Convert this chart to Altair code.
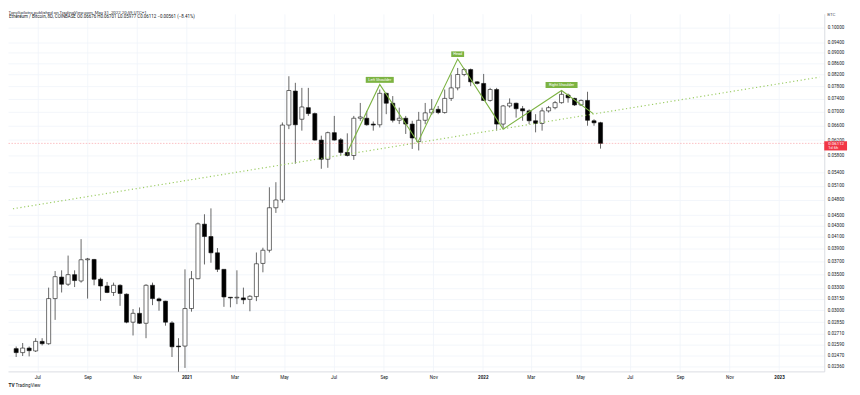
import altair as alt
import pandas as pd

# ---------------- data ----------------
DATES = pd.date_range("2020-06-05", periods=91, freq="8D").strftime("%Y-%m-%d").tolist()

OPEN = [
    0.02546, 0.02503, 0.02552, 0.02521, 0.02626, 0.02600, 0.03152, 0.03455, 0.03351, 0.03491,
    0.03398, 0.03720, 0.03725, 0.03423, 0.03326, 0.03235, 0.03336, 0.03212, 0.02850, 0.02960,
    0.02837, 0.03336, 0.03148, 0.03118, 0.02841, 0.02574, 0.02574, 0.03021, 0.03431, 0.04330,
    0.04108, 0.03832, 0.03571, 0.03170, 0.03161, 0.03161, 0.03141, 0.03179, 0.03662, 0.03874,
    0.04644, 0.04800, 0.06609, 0.07641, 0.06775, 0.07118, 0.06941, 0.06199, 0.05712, 0.06398,
    0.06207, 0.05880, 0.05804, 0.06804, 0.06804, 0.06637, 0.06617, 0.07567, 0.07254, 0.06745,
    0.06804, 0.06637, 0.06160, 0.06745, 0.06962, 0.07068, 0.06971, 0.07405, 0.07745, 0.08199,
    0.08375, 0.07947, 0.07893, 0.07341, 0.07691, 0.06637, 0.07170, 0.07254, 0.07086, 0.07021,
    0.06731, 0.06654, 0.07021, 0.07118, 0.07272, 0.07512, 0.07405, 0.07201, 0.07341, 0.06731,
    0.06676,
]
HIGH = [
    0.02569, 0.02608, 0.02569, 0.02662, 0.02662, 0.03303, 0.03545, 0.03556, 0.03787, 0.03556,
    0.04062, 0.03749, 0.03733, 0.03446, 0.03384, 0.03374, 0.03351, 0.03222, 0.03015, 0.03035,
    0.03351, 0.03374, 0.03166, 0.03122, 0.02862, 0.02662, 0.03571, 0.03545, 0.04361, 0.04517,
    0.04632, 0.03911, 0.03571, 0.03170, 0.03556, 0.03303, 0.03198, 0.03837, 0.03916, 0.05068,
    0.05179, 0.06683, 0.08139, 0.07914, 0.07745, 0.07745, 0.06971, 0.06316, 0.06426, 0.06872,
    0.06254, 0.06379, 0.06872, 0.07263, 0.07021, 0.06711, 0.07691, 0.07586, 0.07479, 0.07118,
    0.06872, 0.06731, 0.06991, 0.07263, 0.07383, 0.07170, 0.07691, 0.08199, 0.08432, 0.08432,
    0.08411, 0.07971, 0.08220, 0.07745, 0.07745, 0.07200, 0.07405, 0.07272, 0.07170, 0.07068,
    0.06923, 0.07118, 0.07170, 0.07325, 0.07641, 0.07559, 0.07425, 0.07372, 0.07618, 0.06775,
    0.06701,
]
LOW = [
    0.02457, 0.02467, 0.02463, 0.02510, 0.02581, 0.02589, 0.02878, 0.03235, 0.03326, 0.03311,
    0.03374, 0.03152, 0.03336, 0.03122, 0.03226, 0.03188, 0.03056, 0.02837, 0.02693, 0.02829,
    0.02662, 0.03065, 0.02993, 0.02808, 0.02457, 0.02307, 0.02345, 0.02981, 0.03423, 0.03646,
    0.03673, 0.03530, 0.03043, 0.03037, 0.03078, 0.03078, 0.02986, 0.03118, 0.03526, 0.03837,
    0.04543, 0.04745, 0.06495, 0.05604, 0.06453, 0.06872, 0.06186, 0.05484, 0.05508, 0.06186,
    0.05804, 0.05779, 0.05697, 0.06731, 0.06590, 0.06453, 0.06541, 0.06923, 0.06683, 0.06637,
    0.06363, 0.05969, 0.05930, 0.06632, 0.06902, 0.06923, 0.06941, 0.07325, 0.07664, 0.08139,
    0.07802, 0.07860, 0.07325, 0.07303, 0.06453, 0.06523, 0.07118, 0.06822, 0.06731, 0.06637,
    0.06407, 0.06453, 0.06971, 0.07068, 0.07241, 0.07272, 0.07170, 0.07170, 0.06590, 0.06590,
    0.05977,
]
CLOSE = [
    0.02503, 0.02552, 0.02524, 0.02626, 0.02600, 0.03152, 0.03461, 0.03351, 0.03491, 0.03404,
    0.03720, 0.03733, 0.03423, 0.03326, 0.03235, 0.03336, 0.03222, 0.02850, 0.02960, 0.02837,
    0.03336, 0.03152, 0.03122, 0.02850, 0.02566, 0.02566, 0.03021, 0.03431, 0.04336, 0.04108,
    0.03832, 0.03571, 0.03174, 0.03161, 0.03170, 0.03136, 0.03183, 0.03657, 0.03874, 0.04644,
    0.04800, 0.06609, 0.07658, 0.06617, 0.07139, 0.06941, 0.06199, 0.05712, 0.06398, 0.06199,
    0.05880, 0.05804, 0.06804, 0.06841, 0.06617, 0.06609, 0.07567, 0.07254, 0.06745, 0.06804,
    0.06637, 0.06254, 0.06745, 0.06962, 0.07068, 0.06971, 0.07405, 0.07745, 0.08199, 0.08375,
    0.07947, 0.07893, 0.07341, 0.07691, 0.06637, 0.07170, 0.07254, 0.07086, 0.07021, 0.06731,
    0.06654, 0.07021, 0.07118, 0.07272, 0.07534, 0.07425, 0.07201, 0.07341, 0.06745, 0.06673,
    0.06112,
]

# head & shoulders drawing
ZZ_DATES = ["2021-07-18", "2021-08-27", "2021-10-13", "2021-12-01", "2022-01-26", "2022-04-08", "2022-05-17"]
ZZ_PRICES = [0.05887, 0.07860, 0.06141, 0.08759, 0.06495, 0.07658, 0.06941]
PATTERN_LABELS = ["Left Shoulder", "Head", "Right Shoulder"]   # at zigzag points 1, 3, 5

# neckline (dotted trend line)
NECK_DATES = ["2020-06-01T01:00:00", "2023-02-19T14:00:00"]
NECK_PRICES = [0.04624, 0.08107]

# axis ticks
Y_TICKS = [0.02360, 0.02470, 0.02590, 0.02710, 0.02850, 0.03000, 0.03150, 0.03300, 0.03500,
           0.03700, 0.03900, 0.04100, 0.04300, 0.04500, 0.04800, 0.05100, 0.05400, 0.05800,
           0.06200, 0.06600, 0.07000, 0.07400, 0.07800, 0.08200, 0.08600, 0.09000, 0.09400,
           0.10000]
X_TICKS = ["2020-07-01", "2020-09-01", "2020-11-01", "2021-01-01", "2021-03-01", "2021-05-01",
           "2021-07-01", "2021-09-01", "2021-11-01", "2022-01-01", "2022-03-01", "2022-05-01",
           "2022-07-01", "2022-09-01", "2022-11-01", "2023-01-01"]

HEADER = "TonySpilotro published on TradingView.com, May 31, 2022 20:59 UTC+1"
LEGEND = "Ethereum / Bitcoin, 8D, COINBASE  O0.06676 H0.06701 L0.05977 C0.06112 \u22120.00561 (\u22128.41%)"
CURRENCY = "BTC"
COUNTDOWN = "1d 6h"
LOGO = "TradingView"

# ---------------- chart ----------------
W, H = 824, 361
Y_DOMAIN = [0.023104, 0.106249]
GREEN = "#7cb342"
FONT = "Roboto"
TXT = "#131722"


def dt(s):
    y, m, d = (int(v) for v in s.split("-"))
    return alt.DateTime(year=y, month=m, date=d, utc=True)


xscale = alt.Scale(type="utc", nice=False,
                   domain=[alt.DateTime(year=2020, month=6, date=1, hours=1, utc=True),
                           alt.DateTime(year=2023, month=2, date=19, hours=14, utc=True)])
yscale = alt.Scale(type="log", domain=Y_DOMAIN, nice=False)

xaxis = alt.Axis(
    values=[dt(s) for s in X_TICKS],
    labelExpr="utcmonth(datum.value) == 0 ? utcFormat(datum.value, '%Y') : utcFormat(datum.value, '%b')",
    labelFontWeight={"condition": {"test": "utcmonth(datum.value) == 0", "value": "bold"}, "value": "normal"},
    labelFontSize=4.6, labelColor=TXT, labelFont=FONT, labelPadding=3.2,
    ticks=False, tickSize=0, grid=True, gridColor="#f0f3fa", gridWidth=0.8,
    domainColor="#d1d4dc", domainWidth=0.8, labelOverlap=False, labelFlush=False,
)
yaxis = alt.Axis(
    orient="right", values=Y_TICKS, format=".5f",
    labelFontSize=4.6, labelColor=TXT, labelFont=FONT, labelPadding=3,
    labelAlign="left", labelBaseline="middle",
    ticks=False, tickSize=0, grid=True, gridColor="#f0f3fa", gridWidth=0.8,
    domainColor="#d1d4dc", domainWidth=0.8, labelOverlap=False,
)

candles = pd.DataFrame({"date": DATES, "open": OPEN, "high": HIGH, "low": LOW, "close": CLOSE})

wicks = alt.Chart(candles).mark_rule(color="#000000", strokeWidth=0.6).encode(
    x=alt.X("date:T", scale=xscale, axis=xaxis, title=None),
    y=alt.Y("low:Q", scale=yscale, axis=yaxis, title=None),
    y2="high:Q",
)
bodies = alt.Chart(candles).mark_bar(width=4.1, stroke="#111111", strokeWidth=0.6).encode(
    x=alt.X("date:T", scale=xscale, title=None),
    y=alt.Y("open:Q", scale=yscale, title=None),
    y2="close:Q",
    fill=alt.when(alt.datum.close >= alt.datum.open).then(alt.value("#ffffff")).otherwise(alt.value("#000000")),
)

last = pd.DataFrame({"p": [CLOSE[-1]], "t": [f"{CLOSE[-1]:.5f}"], "c": [COUNTDOWN]})
price_line = alt.Chart(last).mark_rule(color="#f23645", strokeWidth=0.7, opacity=0.45,
                                       strokeDash=[1.5, 1.5]).encode(
    y=alt.Y("p:Q", scale=yscale, title=None))

neck = alt.Chart(pd.DataFrame({"d": NECK_DATES, "p": NECK_PRICES})).mark_line(
    color="#9ccc65", strokeWidth=1.2, strokeDash=[1.2, 2.6], clip=True).encode(
    x=alt.X("d:T", scale=xscale, title=None),
    y=alt.Y("p:Q", scale=yscale, title=None))

zz = alt.Chart(pd.DataFrame({"d": ZZ_DATES, "p": ZZ_PRICES})).mark_line(
    color=GREEN, strokeWidth=1.1).encode(
    x=alt.X("d:T", scale=xscale, title=None),
    y=alt.Y("p:Q", scale=yscale, title=None))

layers = [wicks, bodies, price_line, neck, zz]

# pattern labels: green boxes with white text
label_boxes = [(28.3, 6.0, -4.6), (13.0, 5.7, -4.9), (32.3, 6.0, -5.6)]
for k, (name, (bw, bh, off)) in enumerate(zip(PATTERN_LABELS, label_boxes)):
    idx = 2 * k + 1
    df = pd.DataFrame({"d": [ZZ_DATES[idx]], "p": [ZZ_PRICES[idx]], "t": [name]})
    r = bh / bw
    path = f"M-1,-{r:.3f}L1,-{r:.3f}L1,{r:.3f}L-1,{r:.3f}Z"
    box = alt.Chart(df).mark_point(shape=path, size=bw * bw, filled=True, color=GREEN,
                                   opacity=1, strokeWidth=0, yOffset=off).encode(
        x=alt.X("d:T", scale=xscale, title=None),
        y=alt.Y("p:Q", scale=yscale, title=None))
    txt = alt.Chart(df).mark_text(color="#ffffff", fontSize=3.9, font=FONT,
                                  baseline="middle", align="center", dy=off).encode(
        x=alt.X("d:T", scale=xscale, title=None),
        y=alt.Y("p:Q", scale=yscale, title=None),
        text="t:N")
    layers += [box, txt]

# current price tag on the price axis
pbw, pbh = 23.0, 9.3
pr = pbh / pbw
ppath = f"M-1,-{pr:.3f}L1,-{pr:.3f}L1,{pr:.3f}L-1,{pr:.3f}Z"
price_box = alt.Chart(last).mark_point(shape=ppath, size=pbw * pbw, filled=True, color="#f23645",
                                       opacity=1, strokeWidth=0, yOffset=2.5).encode(
    x=alt.value(W + 11.5), y=alt.Y("p:Q", scale=yscale, title=None))
price_txt = alt.Chart(last).mark_text(color="#ffffff", fontSize=4.4, font=FONT, align="left",
                                      baseline="middle", dy=0.7).encode(
    x=alt.value(W + 4), y=alt.Y("p:Q", scale=yscale, title=None), text="t:N")
count_txt = alt.Chart(last).mark_text(color="#ffffff", fontSize=4.0, font=FONT, align="left",
                                      baseline="middle", dy=5.0).encode(
    x=alt.value(W + 4), y=alt.Y("p:Q", scale=yscale, title=None), text="c:N")
layers += [price_box, price_txt, count_txt]

# header / footer texts
def note(text, x, y, size=4.5, color=TXT, weight="normal"):
    return alt.Chart(pd.DataFrame({"t": [text]})).mark_text(
        align="left", baseline="middle", fontSize=size, color=color, font=FONT,
        fontWeight=weight).encode(x=alt.value(x), y=alt.value(y), text="t:N")

layers += [
    note(HEADER, 0.5, -1.2, 4.4, "#2a2e39"),
    note(LEGEND, 1.0, 3.2, 4.5, TXT),
    note(CURRENCY, W + 3, 1.3, 4.4, "#50535e"),
    note("TV", 0.5, 376, 4.8, "#131722", "bold"),
    note(LOGO, 7.5, 376, 4.6, "#131722"),
]

chart = alt.layer(*layers).properties(
    width=W, height=H,
    autosize=alt.AutoSizeParams(type="none"),
    padding={"left": 0, "top": 4, "right": 28, "bottom": 22},
    background="#ffffff",
).configure_view(strokeWidth=0)

chart.save("out.html", embed_options={"renderer": "svg", "actions": False})
